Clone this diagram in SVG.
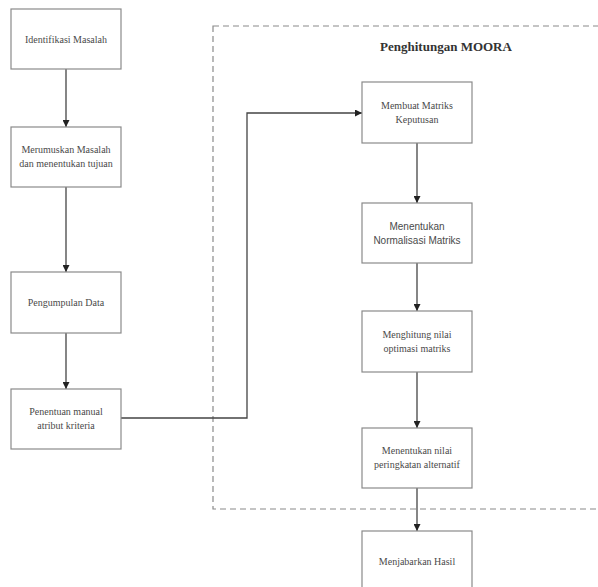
<svg xmlns="http://www.w3.org/2000/svg" width="598" height="587" viewBox="0 0 598 587">
<style>
.box{fill:#fff;stroke:#8a8a8a;stroke-width:1.2}
.t{font-family:"Liberation Serif","Times New Roman",serif;font-size:10px;fill:#4a4a4a;text-anchor:middle}
.s{font-family:"Liberation Sans",Arial,sans-serif;font-size:10px;fill:#4a4a4a;text-anchor:middle}
.c{fill:none;stroke:#444;stroke-width:1.3}
</style>
<defs>
<marker id="a" viewBox="0 0 10 10" refX="10" refY="5" markerWidth="7" markerHeight="7" markerUnits="userSpaceOnUse" orient="auto">
<path d="M0,0L10,5L0,10z" fill="#222"/>
</marker>
</defs>
<rect width="598" height="587" fill="#fff"/>
<g id="moora-group">
<rect x="213" y="26" width="390" height="483" fill="none" stroke="#8a8a8a" stroke-width="1.2" stroke-dasharray="6,4"/>
<text x="446" y="51" font-family="'Liberation Serif','Times New Roman',serif" font-size="13" font-weight="bold" fill="#333" text-anchor="middle">Penghitungan MOORA</text>
</g>
<g id="connectors">
<line class="c" x1="66" y1="69" x2="66" y2="127" marker-end="url(#a)"/>
<line class="c" x1="66" y1="187" x2="66" y2="272" marker-end="url(#a)"/>
<line class="c" x1="66" y1="333" x2="66" y2="389" marker-end="url(#a)"/>
<polyline class="c" points="121,418 247,418 247,113 362,113" marker-end="url(#a)"/>
<line class="c" x1="417" y1="143" x2="417" y2="203" marker-end="url(#a)"/>
<line class="c" x1="417" y1="263" x2="417" y2="311" marker-end="url(#a)"/>
<line class="c" x1="417" y1="372" x2="417" y2="428" marker-end="url(#a)"/>
<line class="c" x1="417" y1="488" x2="417" y2="531" marker-end="url(#a)"/>
</g>
<g id="n1"><rect class="box" x="11" y="9" width="110" height="60"/><text class="t" x="66" y="43">Identifikasi Masalah</text></g>
<g id="n2"><rect class="box" x="11" y="127" width="110" height="60"/><text class="t" x="66" y="153">Merumuskan Masalah</text><text class="t" x="66" y="167">dan menentukan tujuan</text></g>
<g id="n3"><rect class="box" x="11" y="272" width="110" height="61"/><text class="t" x="66" y="306">Pengumpulan Data</text></g>
<g id="n4"><rect class="box" x="11" y="389" width="110" height="60"/><text class="t" x="66" y="415">Penentuan manual</text><text class="t" x="66" y="429">atribut kriteria</text></g>
<g id="m1"><rect class="box" x="362" y="82" width="110" height="61"/><text class="t" x="417" y="109">Membuat Matriks</text><text class="t" x="417" y="123">Keputusan</text></g>
<g id="m2"><rect class="box" x="362" y="203" width="110" height="60"/><text class="s" x="417" y="230">Menentukan</text><text class="s" x="417" y="244">Normalisasi Matriks</text></g>
<g id="m3"><rect class="box" x="362" y="311" width="110" height="61"/><text class="t" x="417" y="338">Menghitung nilai</text><text class="t" x="417" y="352">optimasi matriks</text></g>
<g id="m4"><rect class="box" x="362" y="428" width="110" height="60"/><text class="t" x="417" y="454">Menentukan nilai</text><text class="t" x="417" y="468">peringkatan alternatif</text></g>
<g id="m5"><rect class="box" x="362" y="531" width="110" height="60"/><text class="t" x="417" y="565">Menjabarkan Hasil</text></g>
</svg>
